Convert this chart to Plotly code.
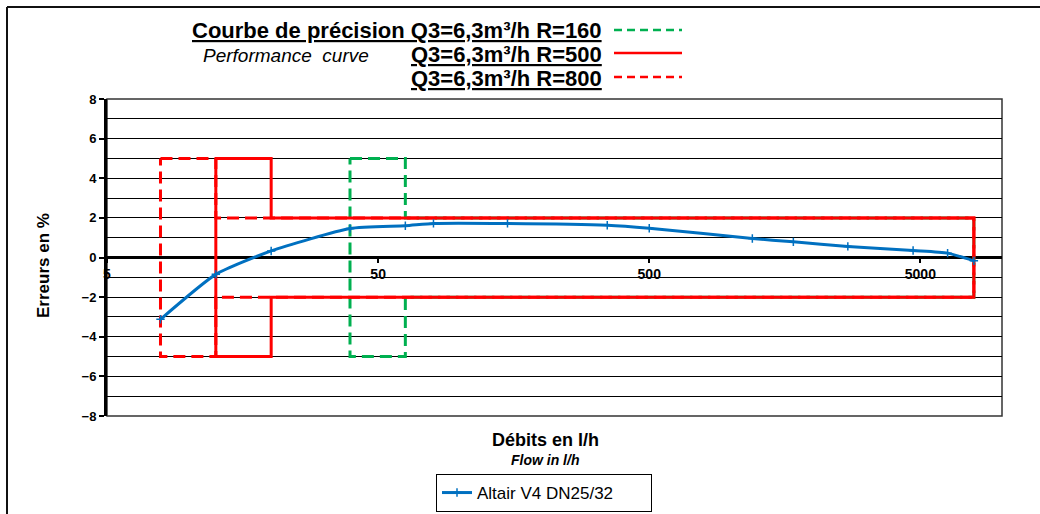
import math
import plotly.graph_objects as go

# ---------------- data ----------------
flow_lh = [7.875, 12.6, 20.16, 39.375, 63, 80, 150, 350, 500, 1200, 1700, 2700, 4700, 6300, 7875]
error_pct = [-3.12, -0.85, 0.33, 1.46, 1.6, 1.72, 1.72, 1.63, 1.48, 0.96, 0.79, 0.56, 0.35, 0.22, -0.17]
series_name = "Altair V4 DN25/32"

q3_m3h = 6.3
ratios_R = [160, 500, 800]
mpe_lower = 5
mpe_upper = 2

x_tick_vals = [5, 50, 500, 5000]
x_tick_text = ["5", "50", "500", "5000"]
x_min, x_max = 5, 10000
y_min, y_max = -8, 8

# ---------------- layout helpers ----------------
W, H = 1040, 514
L, R_, T, B = 107, 38, 99, 98
PW, PH = W - L - R_, H - T - B


def px(x):
    return (x - L) / PW


def py(y):
    return (H - B - y) / PH


FONT = "Liberation Sans, Arial, sans-serif"
RED = "#FF0000"
GREEN = "#00B050"
BLUE = "#0070C0"
DASH = "12px,6px"

fig = go.Figure()

# tolerance boxes (MPE envelopes) computed from Q3 and R
styles = {160: dict(color=GREEN, dash=DASH), 800: dict(color=RED, dash=DASH), 500: dict(color=RED, dash="solid")}
for r in [160, 800, 500]:
    q3 = q3_m3h * 1000
    q1 = q3 / r
    q2 = 1.6 * q1
    q4 = 1.25 * q3
    xs = [q1, q2, q2, q4, q4, q2, q2, q1, q1]
    ys = [mpe_lower, mpe_lower, mpe_upper, mpe_upper, -mpe_upper, -mpe_upper, -mpe_lower, -mpe_lower, mpe_lower]
    fig.add_trace(go.Scatter(x=xs, y=ys, mode="lines", showlegend=False, hoverinfo="skip",
                             line=dict(color=styles[r]["color"], width=3, dash=styles[r]["dash"])))

fig.add_trace(go.Scatter(x=flow_lh, y=error_pct, mode="lines+markers", name=series_name,
                         line=dict(color=BLUE, width=3, shape="spline", smoothing=0.55),
                         marker=dict(symbol="cross-thin", size=6, line=dict(color=BLUE, width=1.5), color=BLUE)))

shapes = []
# plot frame
shapes.append(dict(type="rect", xref="paper", yref="paper", x0=0, x1=1, y0=0, y1=1,
                   line=dict(color="#333333", width=1.5), layer="below"))
# outer chart border (top and left visible)
shapes.append(dict(type="line", xref="paper", yref="paper", x0=px(7), x1=px(1045), y0=py(7), y1=py(7),
                   line=dict(color="#111111", width=2)))
shapes.append(dict(type="line", xref="paper", yref="paper", x0=px(7), x1=px(7), y0=py(7), y1=py(520),
                   line=dict(color="#111111", width=2)))
# header key samples
shapes.append(dict(type="line", xref="paper", yref="paper", x0=px(614), x1=px(682), y0=py(30), y1=py(30),
                   line=dict(color=GREEN, width=2.5, dash="8px,5px")))
shapes.append(dict(type="line", xref="paper", yref="paper", x0=px(614), x1=px(682), y0=py(53), y1=py(53),
                   line=dict(color=RED, width=2.5)))
shapes.append(dict(type="line", xref="paper", yref="paper", x0=px(614), x1=px(682), y0=py(77), y1=py(77),
                   line=dict(color=RED, width=2.5, dash="8px,5px")))

ann = []
hdr = dict(xref="paper", yref="paper", showarrow=False, font=dict(family=FONT, size=22, color="black"))
ann.append(dict(hdr, x=px(604), y=py(30), xanchor="right", yanchor="middle",
                text=f"<b><u>Courbe de précision Q3=6,3m³/h R={ratios_R[0]}</u></b>"))
ann.append(dict(hdr, x=px(604), y=py(55), xanchor="right", yanchor="middle",
                text=f"<b><u>Q3=6,3m³/h R={ratios_R[1]}</u></b>"))
ann.append(dict(hdr, x=px(604), y=py(79), xanchor="right", yanchor="middle",
                text=f"<b><u>Q3=6,3m³/h R={ratios_R[2]}</u></b>"))
ann.append(dict(xref="paper", yref="paper", showarrow=False, x=px(201), y=py(56), xanchor="left", yanchor="middle",
                text="<i>Performance  curve</i>", font=dict(family=FONT, size=19, color="black")))
# axis titles
ann.append(dict(xref="paper", yref="paper", showarrow=False, x=px(43), y=py(266), xanchor="center", yanchor="middle",
                textangle=-90, text="<b>Erreurs en %</b>", font=dict(family=FONT, size=17, color="black")))
ann.append(dict(xref="paper", yref="paper", showarrow=False, x=px(545), y=py(440), xanchor="center", yanchor="middle",
                text="<b>Débits en l/h</b>", font=dict(family=FONT, size=18, color="black")))
ann.append(dict(xref="paper", yref="paper", showarrow=False, x=px(545), y=py(460), xanchor="center", yanchor="middle",
                text="<b><i>Flow in l/h</i></b>", font=dict(family=FONT, size=14, color="black")))

fig.update_layout(
    width=W, height=H,
    margin=dict(l=L, r=R_, t=T, b=B, pad=0, autoexpand=False),
    paper_bgcolor="white", plot_bgcolor="white",
    font=dict(family=FONT, color="black"),
    shapes=shapes, annotations=ann,
    showlegend=True,
    legend=dict(orientation="h", x=px(544), y=py(493), xanchor="center", yanchor="middle",
                bordercolor="black", borderwidth=1, bgcolor="white",
                font=dict(family=FONT, size=17, color="black"), itemwidth=30,
                entrywidth=169, entrywidthmode="pixels"),
    xaxis=dict(type="log", range=[math.log10(x_min), math.log10(x_max)],
               tickmode="array", tickvals=x_tick_vals, ticktext=x_tick_text,
               showgrid=False, zeroline=False, showline=False,
               anchor="free", position=0.5,
               ticks="outside", ticklen=4, tickwidth=2, tickcolor="black",
               tickfont=dict(family=FONT, size=14, color="black", weight="bold")),
    yaxis=dict(range=[y_min, y_max], tickmode="linear", tick0=y_min, dtick=2,
               showgrid=True, gridcolor="black", gridwidth=1,
               minor=dict(dtick=1, showgrid=True, gridcolor="black", gridwidth=1),
               zeroline=True, zerolinecolor="black", zerolinewidth=3,
               showline=True, linecolor="black", linewidth=3,
               ticks="outside", ticklen=5, tickwidth=2, tickcolor="black",
               tickfont=dict(family=FONT, size=13, color="black", weight="bold")),
)

fig.write_html("out.html", config={"displayModeBar": False},
               post_script="document.body.style.margin='0px';document.body.style.overflow='hidden';")
